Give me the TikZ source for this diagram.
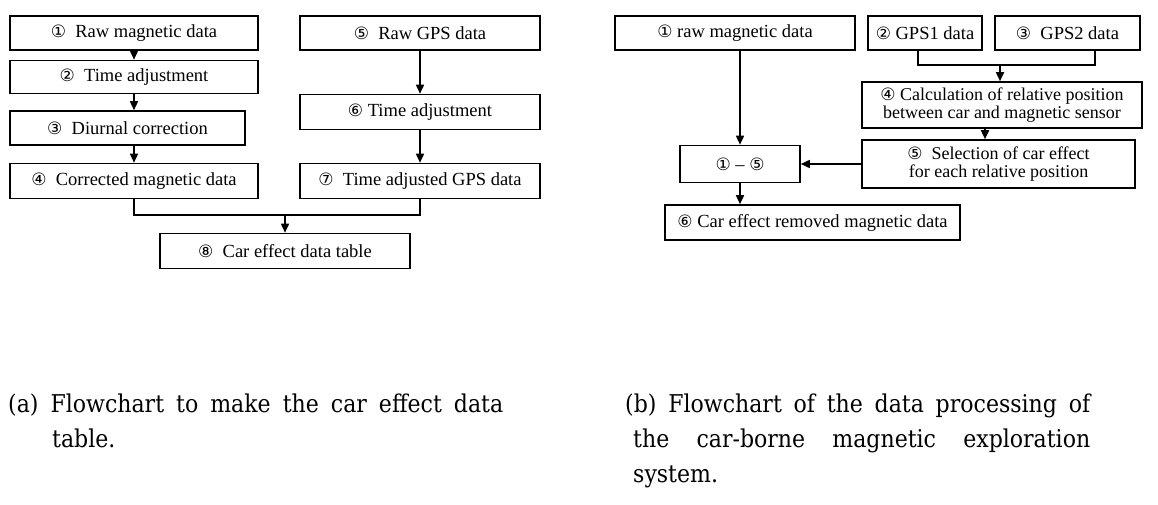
\documentclass[tikz,border=0pt]{standalone}
\usepackage{fontspec}
\setmainfont{Liberation Serif}
\newfontfamily\circfont{DejaVu Sans}
\newfontfamily\capfont{DejaVu Serif Condensed}
\usetikzlibrary{arrows.meta,positioning,calc}
\newcommand{\cn}[1]{{\circfont\fontsize{17}{17}\selectfont #1}}
% justified caption paragraph with a hanging indent
\newcommand{\captpar}[3]{\parbox[t]{#1}{\rightskip=0pt\leftskip=0pt
  \parfillskip=0pt plus 1fil\hangindent=#2\hangafter=1\noindent #3}}
\begin{document}
\begin{tikzpicture}[x=1pt,y=-1pt,
  box/.style={draw,line width=1.6pt,inner sep=0pt,font=\fontsize{18.5}{18.5}\selectfont,align=center},
  tall/.style={box,font=\fontsize{18}{17.5}\selectfont},
  link/.style={line width=1.6pt},
  arr/.style={line width=1.6pt,-{Triangle[length=9pt,width=8pt]}},
  capt/.style={anchor=north west,inner sep=0pt,font=\capfont\fontsize{24.5}{35}\selectfont}]
\useasboundingbox (0,0) rectangle (1158,505);

% ---------- (a) car effect data table ----------
\node[box,minimum width=248pt,minimum height=34pt] (b1) at (134,33) {\cn{①}\ \ Raw magnetic data};
\node[box,minimum width=248pt,minimum height=33pt] (b2) at (134,77) {\cn{②}\ \ Time adjustment};
\node[box,minimum width=235pt,minimum height=34pt] (b3) at (127.5,128) {\cn{③}\ \ Diurnal correction};
\node[box,minimum width=248pt,minimum height=35pt] (b4) at (134,181) {\cn{④}\ \ Corrected magnetic data};
\node[box,minimum width=240pt,minimum height=34pt] (b5) at (420,33) {\cn{⑤}\ \ Raw GPS data};
\node[box,minimum width=240pt,minimum height=35pt] (b6) at (420,112) {\cn{⑥}\ Time adjustment};
\node[box,minimum width=240pt,minimum height=35pt] (b7) at (420,181) {\cn{⑦}\ \ Time adjusted GPS data};
\node[box,minimum width=250pt,minimum height=35pt] (b8) at (285,251) {\cn{⑧}\ \ Car effect data table};
\coordinate (ja) at (285,215);

\draw[arr] (b1.south) -- (b2.north);
\draw[arr] (b2.south) -- (b2.south |- b3.north);
\draw[arr] (b2.south |- b3.south) -- (b4.north);
\draw[arr] (b5.south) -- (b6.north);
\draw[arr] (b6.south) -- (b7.north);
\draw[link] (b4.south) |- (ja) -- (b7.south |- ja) -- (b7.south);
\draw[arr] (ja) -- (b8.north);

% ---------- (b) data processing ----------
\node[box,minimum width=240pt,minimum height=34pt] (r1) at (735,33) {\cn{①}\ raw magnetic data};
\node[box,minimum width=114pt,minimum height=34pt] (r2) at (925,33) {\cn{②}\ GPS1 data};
\node[box,minimum width=145pt,minimum height=34pt] (r3) at (1067.5,33) {\cn{③}\ \ GPS2 data};
\node[tall,minimum width=280pt,minimum height=46pt] (r4) at (1002,105) {\cn{④}\ Calculation of relative position\\between car and magnetic sensor};
\node[tall,minimum width=273pt,minimum height=48pt] (r5) at (998.5,164) {\cn{⑤}\ \ Selection of car effect\\for each relative position};
\node[box,minimum width=120pt,minimum height=37pt] (r0) at (740,164) {\cn{①}\ -- \cn{⑤}};
\node[box,minimum width=295pt,minimum height=35pt] (r6) at (812.5,222.5) {\cn{⑥}\ Car effect removed magnetic data};
\coordinate (jb) at (1000,65);
\coordinate (r2f) at (918,0);
\coordinate (r3f) at (1095,0);

\draw[link] (r2f |- r2.south) |- (jb) -| (r3f |- r3.south);
\draw[arr] (jb) -- (jb |- r4.north);
\draw[arr] (985,0 |- r4.south) -- (985,0 |- r5.north);
\draw[arr] (r1.south -| r0.north) -- (r0.north);
\draw[arr] (r5.west) -- (r0.east);
\draw[arr] (r0.south) -- (r0.south |- r6.north);

% ---------- captions ----------
\node[capt] (ca) at (8,394) {\captpar{495pt}{44pt}{%
  (a)\ Flowchart to make the car effect data\linebreak table.}};
\node[capt] (cb) at (625,394) {\captpar{465pt}{8pt}{%
  (b)\ Flowchart of the data processing of\linebreak the car-borne magnetic exploration\linebreak system.}};
\end{tikzpicture}
\end{document}
